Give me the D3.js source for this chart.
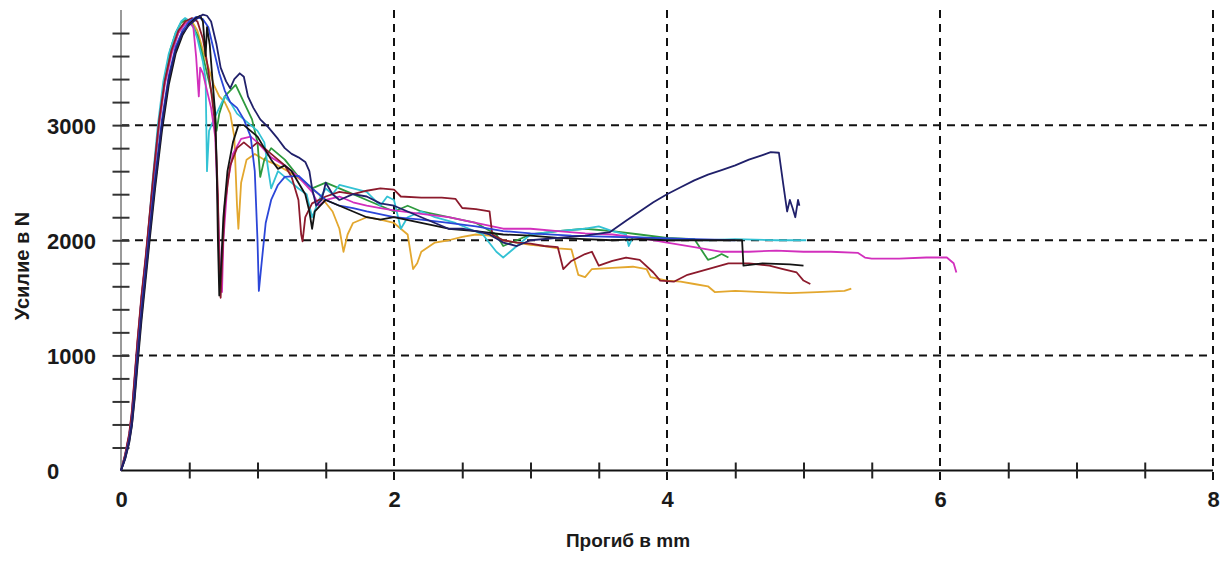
<!DOCTYPE html>
<html>
<head>
<meta charset="utf-8">
<script src="https://cdn.jsdelivr.net/npm/d3@7"></script>
<style>
  html, body { margin: 0; padding: 0; background: #fff; }
  svg { display: block; }
  text { font-family: "Liberation Sans", Arial, sans-serif; }
</style>
</head>
<body>
<div id="chart"></div>
<script>
// ---------------- DATA ----------------
const xTickLabels = [0, 2, 4, 6, 8];
const yTickLabels = [0, 1000, 2000, 3000];
const xMinorTicks = [0.5, 1, 1.5, 2.5, 3, 3.5, 4.5, 5, 5.5, 6.5, 7, 7.5];
const yMinorTicks = [200, 400, 600, 800, 1200, 1400, 1600, 1800, 2200, 2400, 2600, 2800, 3200, 3400, 3600, 3800];
const xGrid = [2, 4, 6, 8];
const yGrid = [1000, 2000, 3000];
const xTitle = "Прогиб в mm";
const yTitle = "Усилие в N";

// deflection (mm), force (N)
const seriesCyan = [[0,0],[0.03,130],[0.06,300],[0.08,480],[0.1,780],[0.12,1080],[0.15,1500],[0.18,1820],[0.2,2080],[0.23,2500],[0.27,3000],[0.31,3380],[0.35,3620],[0.4,3800],[0.44,3900],[0.47,3930],[0.5,3900],[0.53,3850],[0.56,3750],[0.6,3550],[0.62,3400],[0.63,2600],[0.645,2950],[0.68,3050],[0.72,3150],[0.76,3250],[0.8,3200],[0.85,3100],[0.9,3050],[0.95,3000],[1.0,2950],[1.05,2850],[1.08,2600],[1.1,2450],[1.15,2600],[1.2,2550],[1.25,2500],[1.3,2450],[1.36,2400],[1.4,2200],[1.45,2350],[1.5,2450],[1.55,2400],[1.6,2480],[1.7,2450],[1.8,2420],[1.9,2300],[1.95,2380],[2.0,2350],[2.05,2100],[2.1,2200],[2.2,2250],[2.3,2200],[2.45,2150],[2.55,2100],[2.65,2050],[2.75,1900],[2.8,1850],[2.9,1950],[3.0,2050],[3.2,2080],[3.4,2100],[3.5,2120],[3.6,2080],[3.7,2050],[3.72,1950],[3.75,2030],[4.0,2010],[4.3,2000],[4.5,2010],[4.8,2000],[5.02,2000]];

const seriesNavy = [[0,0],[0.03,100],[0.06,250],[0.08,400],[0.1,650],[0.12,950],[0.15,1350],[0.18,1700],[0.21,2050],[0.25,2500],[0.3,3000],[0.35,3400],[0.4,3650],[0.45,3800],[0.5,3870],[0.55,3920],[0.6,3960],[0.63,3950],[0.66,3900],[0.7,3700],[0.73,3500],[0.77,3380],[0.8,3320],[0.83,3400],[0.87,3450],[0.9,3420],[0.93,3250],[0.97,3150],[1.02,3050],[1.08,2980],[1.15,2880],[1.2,2800],[1.25,2750],[1.3,2720],[1.35,2680],[1.38,2600],[1.4,2450],[1.43,2300],[1.47,2350],[1.5,2500],[1.55,2400],[1.6,2350],[1.7,2400],[1.8,2380],[1.9,2320],[2.0,2300],[2.1,2250],[2.2,2200],[2.3,2150],[2.4,2100],[2.5,2100],[2.6,2080],[2.7,2050],[2.8,1980],[2.9,1950],[3.0,2000],[3.2,2020],[3.4,2040],[3.58,2070],[3.7,2170],[3.8,2250],[3.9,2330],[4.0,2400],[4.1,2460],[4.2,2520],[4.3,2570],[4.4,2610],[4.5,2650],[4.6,2700],[4.7,2740],[4.76,2765],[4.82,2760],[4.85,2500],[4.88,2250],[4.9,2350],[4.92,2280],[4.94,2200],[4.96,2350],[4.97,2300]];

const seriesBlue = [[0,0],[0.03,110],[0.06,270],[0.08,430],[0.1,700],[0.12,1000],[0.15,1400],[0.18,1750],[0.21,2100],[0.25,2550],[0.3,3050],[0.35,3430],[0.4,3680],[0.45,3820],[0.5,3900],[0.55,3940],[0.6,3920],[0.64,3850],[0.68,3650],[0.72,3450],[0.76,3300],[0.8,3200],[0.85,3150],[0.9,3050],[0.95,2900],[0.98,2600],[1.0,2000],[1.01,1560],[1.03,1800],[1.06,2150],[1.1,2350],[1.15,2480],[1.2,2550],[1.3,2560],[1.4,2450],[1.5,2350],[1.6,2300],[1.7,2280],[1.8,2250],[2.0,2200],[2.2,2180],[2.4,2150],[2.6,2120],[2.8,2080],[3.0,2060],[3.3,2040],[3.6,2030],[3.9,2020],[4.2,2010],[4.5,2000]];

const seriesMaroon = [[0,0],[0.03,140],[0.06,320],[0.08,520],[0.1,820],[0.12,1120],[0.15,1520],[0.18,1850],[0.2,2100],[0.24,2600],[0.28,3050],[0.32,3380],[0.37,3650],[0.42,3820],[0.47,3900],[0.52,3930],[0.56,3900],[0.6,3750],[0.63,3550],[0.66,3300],[0.69,3000],[0.71,2400],[0.72,1700],[0.73,1500],[0.74,1800],[0.76,2300],[0.8,2650],[0.85,2800],[0.9,2850],[0.95,2800],[1.0,2850],[1.05,2800],[1.1,2750],[1.15,2700],[1.2,2650],[1.25,2550],[1.3,2350],[1.32,2050],[1.33,1990],[1.35,2200],[1.4,2320],[1.5,2380],[1.6,2420],[1.7,2400],[1.8,2430],[1.9,2450],[2.0,2440],[2.05,2380],[2.2,2370],[2.35,2370],[2.45,2360],[2.5,2280],[2.6,2270],[2.7,2250],[2.72,2050],[2.8,2000],[2.9,1980],[3.0,1970],[3.1,1950],[3.2,1940],[3.24,1750],[3.3,1820],[3.4,1880],[3.45,1900],[3.5,1780],[3.6,1820],[3.7,1850],[3.8,1830],[3.9,1720],[3.95,1650],[4.05,1640],[4.15,1700],[4.3,1750],[4.45,1800],[4.6,1800],[4.75,1780],[4.85,1750],[4.95,1720],[5.0,1650],[5.05,1620]];

const seriesMagenta = [[0,0],[0.03,130],[0.06,310],[0.08,500],[0.1,800],[0.12,1100],[0.15,1500],[0.18,1830],[0.2,2080],[0.24,2580],[0.28,3020],[0.32,3350],[0.37,3620],[0.42,3800],[0.47,3880],[0.5,3900],[0.53,3850],[0.55,3600],[0.57,3250],[0.58,3500],[0.6,3450],[0.63,3300],[0.66,3150],[0.69,2900],[0.71,2300],[0.73,1600],[0.74,1550],[0.75,2000],[0.78,2500],[0.82,2750],[0.88,2880],[0.95,2900],[1.0,2850],[1.1,2720],[1.2,2650],[1.3,2550],[1.4,2420],[1.45,2300],[1.5,2350],[1.6,2380],[1.7,2330],[1.8,2300],[1.9,2280],[2.0,2260],[2.2,2230],[2.4,2200],[2.6,2150],[2.8,2100],[3.0,2100],[3.2,2080],[3.4,2060],[3.6,2050],[3.8,2020],[4.0,1980],[4.2,1940],[4.4,1900],[4.6,1900],[4.8,1910],[5.0,1900],[5.2,1900],[5.4,1890],[5.45,1850],[5.5,1840],[5.7,1840],[5.9,1850],[6.05,1850],[6.1,1800],[6.12,1720]];

const seriesOrange = [[0,0],[0.03,120],[0.06,290],[0.08,470],[0.1,760],[0.12,1060],[0.15,1470],[0.18,1800],[0.2,2060],[0.24,2560],[0.28,3010],[0.32,3360],[0.37,3630],[0.42,3800],[0.47,3890],[0.52,3900],[0.56,3820],[0.6,3650],[0.64,3500],[0.68,3350],[0.72,3250],[0.76,3200],[0.8,3100],[0.83,2900],[0.85,2300],[0.86,2100],[0.88,2500],[0.92,2700],[0.98,2750],[1.05,2700],[1.15,2650],[1.25,2580],[1.35,2500],[1.45,2400],[1.55,2250],[1.6,2100],[1.63,1900],[1.66,2050],[1.7,2150],[1.8,2200],[1.9,2180],[2.0,2150],[2.1,2050],[2.14,1750],[2.17,1800],[2.2,1900],[2.3,1980],[2.4,2000],[2.5,2030],[2.6,2050],[2.7,2040],[2.8,2000],[2.9,1980],[3.0,1960],[3.1,1950],[3.2,1930],[3.3,1920],[3.35,1700],[3.4,1680],[3.45,1750],[3.6,1760],[3.75,1770],[3.85,1750],[3.88,1680],[4.0,1650],[4.1,1640],[4.2,1620],[4.3,1600],[4.35,1550],[4.5,1560],[4.7,1550],[4.9,1540],[5.1,1550],[5.3,1560],[5.35,1580]];

const seriesGreen = [[0,0],[0.03,125],[0.06,300],[0.08,490],[0.1,790],[0.12,1090],[0.15,1490],[0.18,1810],[0.2,2070],[0.24,2570],[0.28,3040],[0.32,3400],[0.36,3650],[0.4,3800],[0.44,3890],[0.48,3920],[0.52,3880],[0.56,3780],[0.6,3600],[0.64,3400],[0.68,3200],[0.7,2950],[0.72,3100],[0.76,3250],[0.8,3300],[0.84,3350],[0.88,3250],[0.92,3150],[0.96,3050],[1.0,2850],[1.02,2550],[1.05,2700],[1.1,2800],[1.2,2700],[1.3,2550],[1.4,2450],[1.5,2500],[1.6,2450],[1.7,2400],[1.8,2350],[1.9,2300],[2.0,2250],[2.1,2300],[2.2,2250],[2.4,2200],[2.6,2150],[2.75,2050],[2.8,1950],[2.9,2000],[3.0,2050],[3.2,2080],[3.4,2100],[3.6,2080],[3.8,2050],[4.0,2020],[4.2,2010],[4.3,1830],[4.35,1850],[4.4,1880],[4.45,1850]];

const seriesBlack = [[0,0],[0.03,100],[0.06,240],[0.08,390],[0.1,620],[0.12,900],[0.15,1300],[0.18,1650],[0.21,2000],[0.25,2450],[0.3,2950],[0.35,3350],[0.4,3620],[0.45,3780],[0.5,3880],[0.55,3930],[0.58,3950],[0.6,3900],[0.62,3600],[0.63,3850],[0.65,3700],[0.67,3400],[0.69,3100],[0.7,2700],[0.71,2000],[0.72,1520],[0.73,1700],[0.75,2200],[0.78,2600],[0.82,2850],[0.86,3000],[0.9,3000],[0.95,2950],[1.0,2900],[1.05,2800],[1.1,2700],[1.15,2620],[1.2,2650],[1.25,2600],[1.3,2500],[1.35,2400],[1.38,2250],[1.4,2100],[1.42,2250],[1.5,2350],[1.6,2300],[1.7,2250],[1.8,2200],[1.9,2180],[2.0,2200],[2.2,2150],[2.4,2100],[2.6,2080],[2.8,2050],[3.0,2040],[3.2,2020],[3.4,2010],[3.6,2000],[3.8,2010],[4.0,2000],[4.2,2000],[4.4,2000],[4.55,2000],[4.56,1780],[4.7,1800],[4.9,1790],[5.0,1780]];

const seriesList = [
  { name: "orange",  color: "#e3a72e", data: seriesOrange },
  { name: "green",   color: "#2e9a3e", data: seriesGreen },
  { name: "cyan",    color: "#33c2d4", data: seriesCyan },
  { name: "magenta", color: "#d22fbd", data: seriesMagenta },
  { name: "maroon",  color: "#8c1a2c", data: seriesMaroon },
  { name: "blue",    color: "#2b46d8", data: seriesBlue },
  { name: "black",   color: "#141414", data: seriesBlack },
  { name: "navy",    color: "#20206a", data: seriesNavy }
];

// ---------------- CHART ----------------
const W = 1226, H = 562;
const svg = d3.select("#chart").append("svg").attr("width", W).attr("height", H);

const x = d3.scaleLinear().domain([0, 8]).range([121, 1213]);
const y = d3.scaleLinear().domain([0, 4000]).range([470.5, 10]);

// gridlines
svg.append("g").selectAll("line").data(yGrid).join("line")
  .attr("x1", x(0)).attr("x2", x(8))
  .attr("y1", d => y(d)).attr("y2", d => y(d))
  .attr("stroke", "#111").attr("stroke-width", 2).attr("stroke-dasharray", "8,6");
svg.append("g").selectAll("line").data(xGrid).join("line")
  .attr("x1", d => x(d)).attr("x2", d => x(d))
  .attr("y1", y(4000)).attr("y2", y(0) + 10)
  .attr("stroke", "#111").attr("stroke-width", 2).attr("stroke-dasharray", "8,6");

// y axis line and minor ticks
svg.append("line").attr("x1", x(0)).attr("x2", x(0)).attr("y1", y(0)).attr("y2", y(4000))
  .attr("stroke", "#9a9a9a").attr("stroke-width", 2);
const yMinorAxis = d3.axisLeft(y).tickValues(yMinorTicks.concat(yTickLabels.slice(1))).tickSize(17).tickFormat("");
const gy = svg.append("g").attr("transform", `translate(${x(0) + 8.5},0)`).call(yMinorAxis);
gy.select(".domain").remove();
gy.selectAll(".tick line").attr("stroke", "#333").attr("stroke-width", 2);

// x axis line and minor ticks
svg.append("line").attr("x1", x(0)).attr("x2", x(8)).attr("y1", y(0)).attr("y2", y(0))
  .attr("stroke", "#111").attr("stroke-width", 2);
const xMinorAxis = d3.axisBottom(x).tickValues(xMinorTicks).tickSize(16).tickFormat("");
const gx = svg.append("g").attr("transform", `translate(0,${y(0) - 8})`).call(xMinorAxis);
gx.select(".domain").remove();
gx.selectAll(".tick line").attr("stroke", "#222").attr("stroke-width", 2);

// tick labels via axes
const xLabelAxis = d3.axisBottom(x).tickValues(xTickLabels).tickSize(0).tickPadding(0).tickFormat(d3.format("d"));
const gxl = svg.append("g").attr("transform", `translate(0,${y(0) + 36})`).call(xLabelAxis);
gxl.select(".domain").remove();
gxl.selectAll("text").attr("font-size", 22).attr("font-weight", "bold")
  .attr("font-family", "Liberation Sans, Arial, sans-serif").attr("fill", "#1a1a1a").attr("dy", "0").attr("y", 0);

const yLabelAxis = d3.axisLeft(y).tickValues(yTickLabels).tickSize(0).tickPadding(0).tickFormat(d3.format("d"));
const gyl = svg.append("g").attr("transform", `translate(47,0)`).call(yLabelAxis);
gyl.select(".domain").remove();
gyl.selectAll("text").attr("font-size", 22).attr("font-weight", "bold")
  .attr("font-family", "Liberation Sans, Arial, sans-serif").attr("fill", "#1a1a1a")
  .attr("text-anchor", "start").attr("x", 0).attr("dy", "0.36em");

// series
const line = d3.line().x(d => x(d[0])).y(d => y(d[1]));
svg.append("g").selectAll("path").data(seriesList).join("path")
  .attr("d", d => line(d.data))
  .attr("fill", "none")
  .attr("stroke", d => d.color)
  .attr("stroke-width", 1.8)
  .attr("stroke-linejoin", "round");

// titles
svg.append("text").attr("x", 628).attr("y", 547)
  .attr("text-anchor", "middle").attr("font-size", 19).attr("font-weight", "bold")
  .attr("fill", "#1a1a1a").text(xTitle);
svg.append("text").attr("transform", "translate(29,266) rotate(-90)")
  .attr("text-anchor", "middle").attr("font-size", 20).attr("font-weight", "bold")
  .attr("fill", "#1a1a1a").text(yTitle);
</script>
</body>
</html>
